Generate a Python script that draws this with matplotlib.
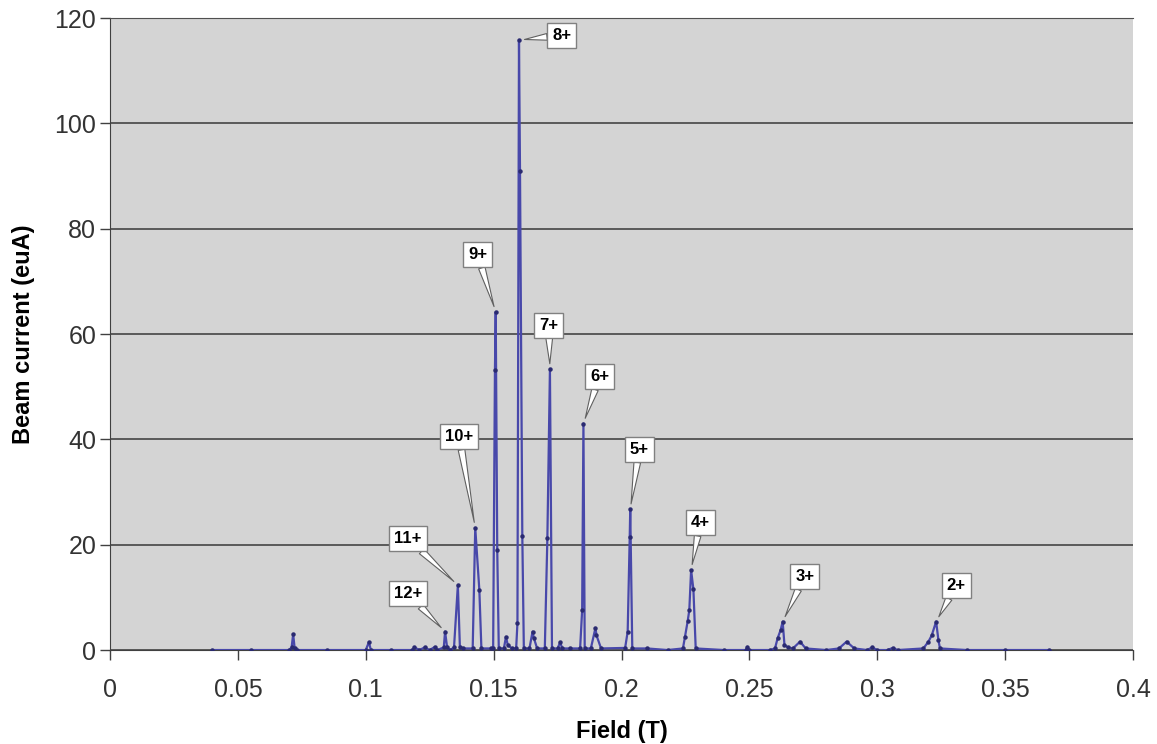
import numpy as np
import matplotlib.pyplot as plt

plt.rcParams['font.family'] = ['Liberation Sans', 'DejaVu Sans']

# Varredura do campo (T) e corrente do feixe (euA)
field = [0.040, 0.055, 0.070, 0.0710, 0.0716, 0.0722, 0.073, 0.085,
         0.100, 0.1012, 0.102, 0.110, 0.118, 0.119, 0.121, 0.123, 0.125,
         0.127, 0.128, 0.1305, 0.131, 0.1318, 0.133, 0.1345, 0.1360,
         0.1368, 0.138, 0.1418, 0.1428, 0.1444, 0.1452, 0.149, 0.1498,
         0.1505, 0.1508, 0.1514, 0.152, 0.154, 0.1548, 0.1555, 0.157,
         0.1588, 0.1593, 0.1599, 0.1603, 0.1612, 0.1618, 0.164, 0.1652,
         0.1657, 0.167, 0.1700, 0.1710, 0.1720, 0.1728, 0.175, 0.176,
         0.1768, 0.180, 0.1838, 0.1846, 0.1851, 0.1856, 0.188, 0.1898,
         0.1902, 0.192, 0.2014, 0.2024, 0.2032, 0.2034, 0.2042, 0.210,
         0.218, 0.2240, 0.2248, 0.2259, 0.2265, 0.2272, 0.2281, 0.2290,
         0.240, 0.2485, 0.2492, 0.2500, 0.258, 0.2600, 0.2610, 0.2622,
         0.2630, 0.2637, 0.265, 0.267, 0.2698, 0.272, 0.280, 0.285,
         0.2880, 0.291, 0.296, 0.298, 0.300, 0.304, 0.306, 0.308, 0.318,
         0.3200, 0.3213, 0.3230, 0.3239, 0.3245, 0.335, 0.350, 0.367]
current = [0.0, 0.0, 0.0, 0.5, 3.0, 0.3, 0.0, 0.0,
           0.0, 1.5, 0.0, 0.0, 0.0, 0.5, 0.0, 0.5, 0.0,
           0.6, 0.0, 0.5, 3.5, 0.5, 0.0, 0.5, 12.3,
           0.5, 0.3, 0.3, 23.2, 11.4, 0.3, 0.3, 0.3,
           53.2, 64.2, 19.0, 0.3, 0.3, 2.5, 1.0, 0.3,
           0.3, 5.2, 115.8, 91.0, 21.7, 0.3, 0.3, 3.5,
           2.3, 0.3, 0.3, 21.3, 53.3, 0.3, 0.3, 1.5,
           0.3, 0.3, 0.3, 7.6, 43.0, 0.3, 0.3, 4.2,
           2.8, 0.3, 0.4, 3.5, 21.5, 26.7, 0.3, 0.3,
           0.0, 0.3, 2.5, 5.6, 7.6, 15.2, 11.5, 0.3,
           0.0, 0.0, 0.6, 0.0, 0.0, 0.3, 2.2, 3.8,
           5.4, 1.0, 0.5, 0.3, 1.6, 0.3, 0.0, 0.3,
           1.6, 0.3, 0.0, 0.5, 0.0, 0.0, 0.4, 0.0, 0.3,
           1.6, 2.8, 5.4, 1.9, 0.3, 0.0, 0.0, 0.0]

# Rótulos dos estados de carga
rotulos = ['12+', '11+', '10+', '9+', '8+', '7+', '6+', '5+', '4+', '3+', '2+']
pico_campo = [0.131, 0.1360, 0.1428, 0.1508, 0.1599, 0.1720, 0.1851,
              0.2034, 0.2272, 0.2630, 0.3230]

# deslocamento da caixa em pixels
desloc = [(-37, 38), (-50, 47), (-16, 91), (-18, 57), (43, 5), (-1, 44),
          (16, 47), (9, 60), (9, 47), (22, 45), (20, 36)]

fig = plt.figure(figsize=(11.57, 7.44), dpi=100)
ax = fig.add_axes([0.0951, 0.1263, 0.9793 - 0.0951, 0.9758 - 0.1263])
ax.set_facecolor('#d4d4d4')

ax.plot(field, current, color='#4848aa', lw=1.6, marker='o', ms=2.2,
        mfc='#2a2a70', mec='#2a2a70', zorder=3)

for lab, xp, (dx, dy) in zip(rotulos, pico_campo, desloc):
    yp = np.interp(xp, field, current)
    ax.annotate(lab, xy=(xp, yp), xytext=(dx, dy), textcoords='offset pixels',
                ha='center', va='center', fontsize=12, fontweight='bold',
                bbox=dict(boxstyle='square,pad=0.3', fc='white', ec='#808080', lw=1),
                arrowprops=dict(arrowstyle='wedge,tail_width=0.4', fc='white',
                                ec='#606060', lw=0.8, shrinkA=0, shrinkB=4),
                zorder=5)

ax.set_xlim(0, 0.4)
ax.set_ylim(0, 120)
ax.set_xticks(np.arange(0, 0.401, 0.05))
ax.set_xticklabels(['0', '0.05', '0.1', '0.15', '0.2', '0.25', '0.3', '0.35', '0.4'])
ax.set_yticks(np.arange(0, 121, 20))
ax.yaxis.grid(True, color='#505050', lw=1.3)
ax.set_axisbelow(True)
ax.tick_params(direction='out', length=7, width=1, color='#404040',
               labelsize=18, labelcolor='#333333')
ax.tick_params(axis='x', pad=13)
ax.tick_params(axis='y', pad=3)
ax.spines['right'].set_visible(False)
ax.spines['top'].set_color('#505050')
ax.spines['left'].set_color('#404040')
ax.spines['bottom'].set_color('#404040')

ax.set_xlabel('Field (T)', fontsize=17, fontweight='bold', labelpad=13)
ax.set_ylabel('Beam current (euA)', fontsize=17, fontweight='bold', labelpad=14)

fig.savefig('out.png', dpi=100)
